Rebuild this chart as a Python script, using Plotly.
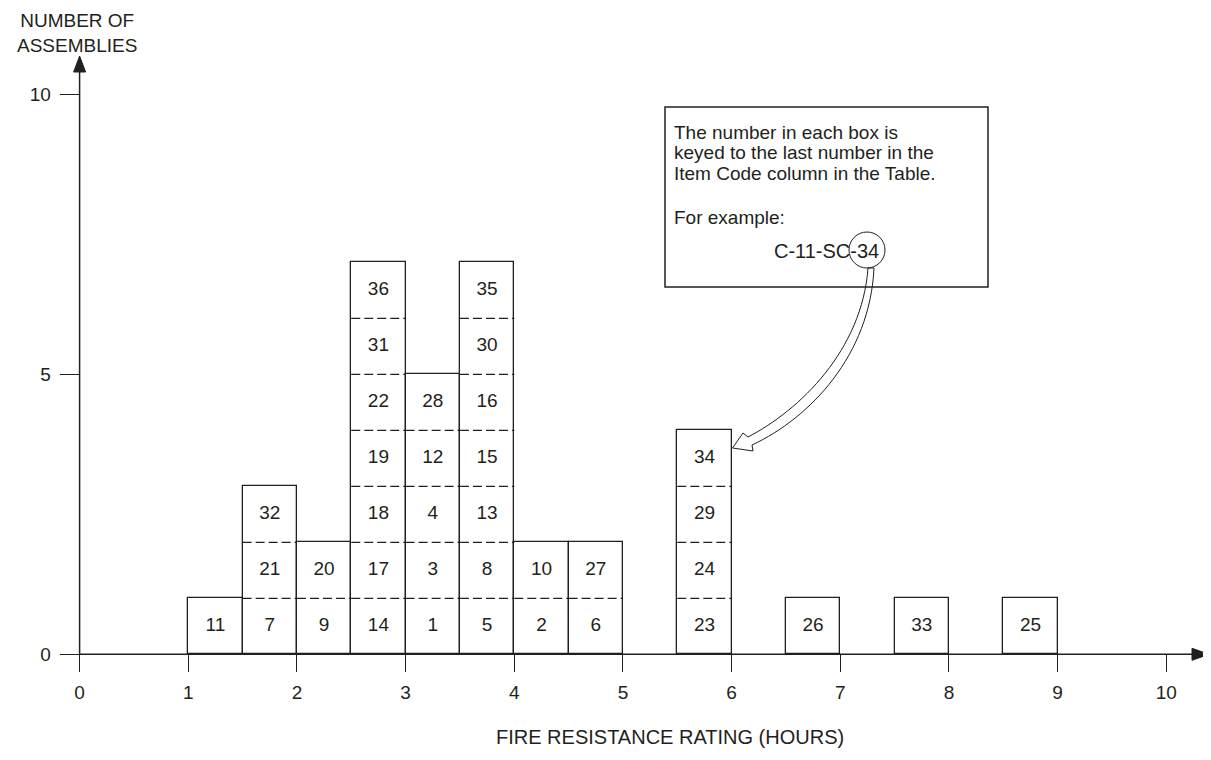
import plotly.graph_objects as go

# Columns of the histogram: left edge (hours) and the item numbers stacked bottom -> top
col_left = [1.0, 1.5, 2.0, 2.5, 3.0, 3.5, 4.0, 4.5, 5.5, 6.5, 7.5, 8.5]
col_items = [
    [11],
    [7, 21, 32],
    [9, 20],
    [14, 17, 18, 19, 22, 31, 36],
    [1, 3, 4, 12, 28],
    [5, 8, 13, 15, 16, 30, 35],
    [2, 10],
    [6, 27],
    [23, 24, 29, 34],
    [26],
    [33],
    [25],
]
box_w = 0.5

x_ticks = [0, 1, 2, 3, 4, 5, 6, 7, 8, 9, 10]
y_ticks = [0, 5, 10]

note_lines = ["The number in each box is",
              "keyed to the last number in the",
              "Item Code column in the Table."]
note_example = "For example:"
note_code = "C-11-SC-34"

INK = "#231f20"
FONT = "Liberation Sans, Arial, sans-serif"

# the page body has an 8px margin, so the figure starts 8px in
OFF = 8
W, H = 1211 - OFF, 760 - OFF


# screen pixel -> data helpers (used only for decorations)
def px2x(p):
    return (p - 79.6) / 108.67


def py2y(p):
    return (654.3 - p) / 56.0


counts = [len(c) for c in col_items]
centers = [x + box_w / 2 for x in col_left]

fig = go.Figure()

# one outlined bar per column
fig.add_trace(go.Bar(
    x=centers, y=counts, width=box_w,
    marker=dict(color="white", line=dict(color=INK, width=1.3)),
    hoverinfo="skip", showlegend=False,
))

# dashed dividers between the stacked boxes
dx, dy = [], []
for x0, n in zip(col_left, counts):
    for lvl in range(1, n):
        dx += [x0, x0 + box_w, None]
        dy += [lvl, lvl, None]
fig.add_trace(go.Scatter(
    x=dx, y=dy, mode="lines",
    line=dict(color=INK, width=1.3, dash="9px,4px"),
    hoverinfo="skip", showlegend=False,
))

# item numbers in the boxes
tx, ty, tt = [], [], []
for c, items in zip(centers, col_items):
    for lvl, it in enumerate(items):
        tx.append(c)
        ty.append(lvl + 0.5)
        tt.append(str(it))
fig.add_trace(go.Scatter(
    x=tx, y=ty, mode="text", text=tt,
    textfont=dict(family=FONT, size=19, color=INK),
    hoverinfo="skip", showlegend=False,
))

shapes = []
# axis lines with arrow heads
shapes.append(dict(type="line", xref="x", yref="y", x0=0, x1=px2x(1195), y0=0, y1=0,
                   line=dict(color=INK, width=1.5)))
shapes.append(dict(type="line", xref="x", yref="y", x0=0, x1=0, y0=0, y1=py2y(72),
                   line=dict(color=INK, width=1.5)))
hx = 6 / 108.67
hy = 6 / 56.0
shapes.append(dict(type="path", xref="x", yref="y",
                   path=f"M {px2x(1192)},{hy} L {px2x(1209)},0 L {px2x(1192)},{-hy} Z",
                   fillcolor=INK, line=dict(color=INK, width=1)))
shapes.append(dict(type="path", xref="x", yref="y",
                   path=f"M {-hx},{py2y(72)} L 0,{py2y(56)} L {hx},{py2y(72)} Z",
                   fillcolor=INK, line=dict(color=INK, width=1)))


# hollow curved call-out arrow
def P(px, py):
    return f"{px2x(px)},{py2y(py)}"


arrow = (f"M {P(868, 268)} C {P(862, 350)} {P(800, 410)} {P(748, 437)} "
         f"L {P(743, 433)} L {P(732.5, 448)} L {P(753, 451)} L {P(752, 445)} "
         f"C {P(810, 418)} {P(870, 355)} {P(874, 268)} Z")
shapes.append(dict(type="path", xref="x", yref="y", path=arrow,
                   fillcolor="white", line=dict(color=INK, width=1)))

# note box and circle
shapes.append(dict(type="rect", xref="x", yref="y",
                   x0=px2x(665), x1=px2x(988), y0=py2y(287), y1=py2y(107),
                   line=dict(color=INK, width=1.5), fillcolor="rgba(0,0,0,0)"))
shapes.append(dict(type="circle", xref="x", yref="y",
                   x0=px2x(849), x1=px2x(885), y0=py2y(268), y1=py2y(232),
                   line=dict(color=INK, width=1)))

annotations = []
for i, line in enumerate(note_lines):
    annotations.append(dict(x=px2x(672), y=py2y(132 + 20.5 * i), text=line,
                            xanchor="left", yanchor="middle", showarrow=False))
annotations.append(dict(x=px2x(672), y=py2y(217), text=note_example,
                        xanchor="left", yanchor="middle", showarrow=False))
annotations.append(dict(x=px2x(881), y=py2y(251), text=note_code,
                        xanchor="right", yanchor="middle", showarrow=False,
                        font=dict(size=20)))
annotations.append(dict(x=px2x(77), y=py2y(OFF + 1), text="NUMBER OF<br>ASSEMBLIES",
                        xanchor="center", yanchor="top", showarrow=False,
                        font=dict(size=19), borderpad=0))
annotations.append(dict(x=px2x(670), y=py2y(737), text="FIRE RESISTANCE RATING (HOURS)",
                        xanchor="center", yanchor="middle", showarrow=False,
                        font=dict(size=20)))

fig.update_layout(
    width=W, height=H,
    margin=dict(l=0, r=0, t=0, b=0),
    paper_bgcolor="white", plot_bgcolor="white",
    font=dict(family=FONT, size=19, color=INK),
    shapes=shapes, annotations=annotations,
    bargap=0,
    xaxis=dict(range=[px2x(OFF), px2x(1211)], anchor="free", position=(760 - 654.3) / H,
               tickmode="array", tickvals=x_ticks, ticktext=[str(v) for v in x_ticks],
               ticks="outside", ticklen=17, tickwidth=1.3, tickcolor=INK,
               showline=False, showgrid=False, zeroline=False,
               ticklabelstandoff=4, fixedrange=True),
    yaxis=dict(range=[py2y(760), py2y(OFF)], anchor="free", position=(79.6 - OFF) / W,
               tickmode="array", tickvals=y_ticks, ticktext=[str(v) for v in y_ticks],
               ticks="outside", ticklen=20, tickwidth=1.3, tickcolor=INK,
               showline=False, showgrid=False, zeroline=False,
               ticklabelstandoff=5, fixedrange=True),
)

fig.write_html("out.html")
